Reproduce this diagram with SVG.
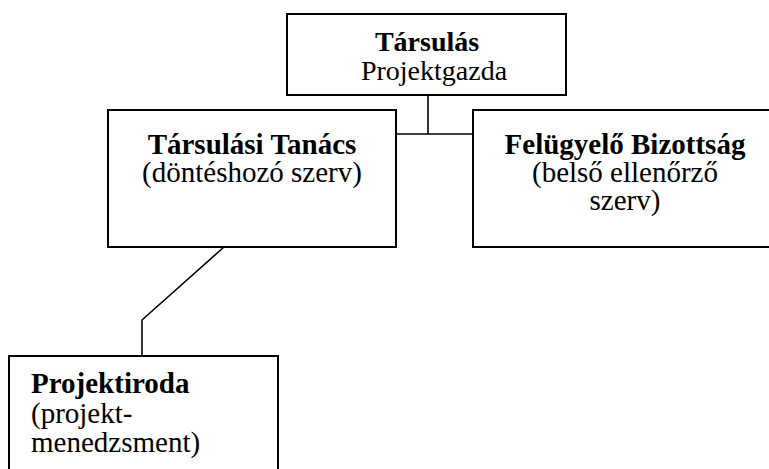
<svg xmlns="http://www.w3.org/2000/svg" width="769" height="469" viewBox="0 0 769 469">
<style>
.box{fill:#fff;stroke:#000;stroke-width:2}
.conn{fill:none;stroke:#000;stroke-width:1.6}
text{font-family:"Liberation Serif","Times New Roman",serif;font-size:29px;fill:#000}
.b{font-weight:bold}
.c{text-anchor:middle}
</style>
<rect width="769" height="469" fill="#fff"/>
<g id="connectors">
<line class="conn" x1="428" y1="95" x2="428" y2="134"/>
<line class="conn" x1="396" y1="134" x2="473" y2="134"/>
<polyline class="conn" points="224,247 142,320 142,356"/>
</g>
<g id="tarsulas">
<rect class="box" x="287" y="14" width="279" height="81"/>
<text class="b c" x="427" y="51" style="font-size:28px">Társulás</text>
<text class="c" x="434" y="80" style="font-size:28px">Projektgazda</text>
</g>
<g id="tarsulasi-tanacs">
<rect class="box" x="108" y="110" width="288" height="137"/>
<text class="b c" x="252" y="154">Társulási Tanács</text>
<text class="c" x="252" y="182">(döntéshozó szerv)</text>
</g>
<g id="felugyelo-bizottsag">
<rect class="box" x="473" y="110" width="310" height="137"/>
<text class="b c" x="625" y="154">Felügyelő Bizottság</text>
<text class="c" x="625" y="182">(belső ellenőrző</text>
<text class="c" x="625" y="210">szerv)</text>
</g>
<g id="projektiroda">
<rect class="box" x="9" y="356" width="269" height="130"/>
<text class="b" x="31" y="393">Projektiroda</text>
<text x="31" y="423">(projekt-</text>
<text x="31" y="452">menedzsment)</text>
</g>
</svg>
